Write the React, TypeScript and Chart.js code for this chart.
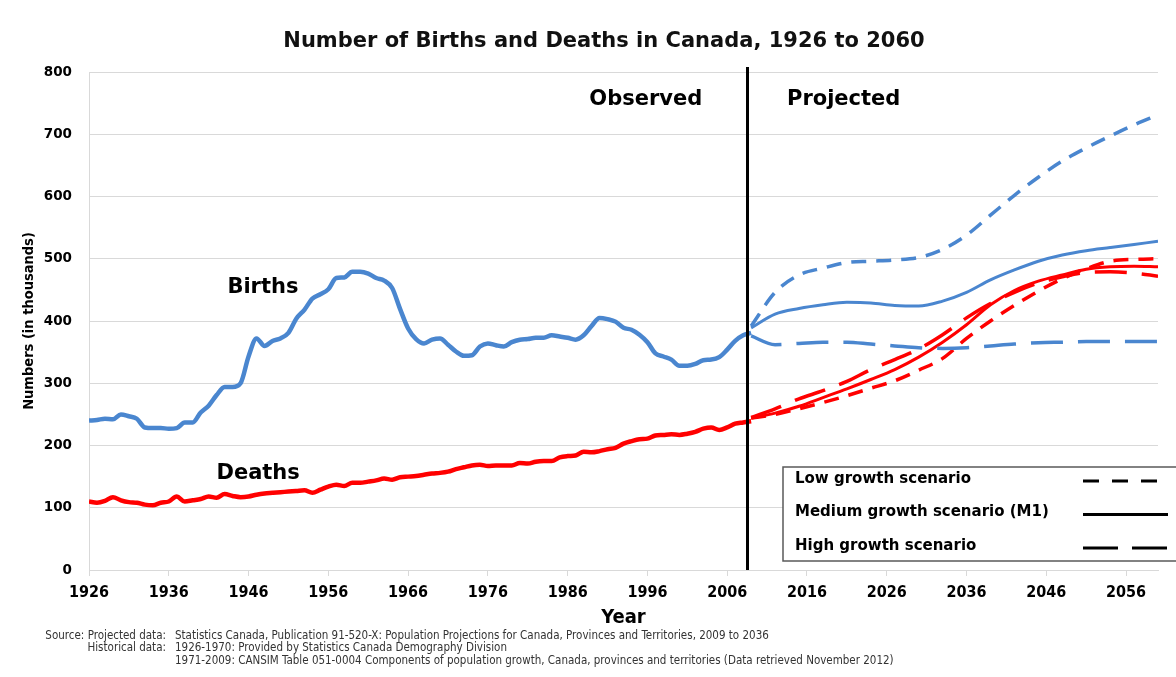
import React, { useEffect, useRef } from "react";
import { Chart, registerables } from "chart.js";

Chart.register(...registerables);

// ---------- data ----------
const observedStartYear = 1926;
const birthsObserved = [
  240, 241, 243, 242, 250, 247, 243, 229, 228, 228,
  227, 228, 237, 237, 253, 264, 281, 294, 294, 300,
  343, 372, 360, 368, 372, 381, 404, 418, 436, 443,
  451, 469, 470, 479, 479, 476, 469, 465, 453, 419,
  388, 371, 364, 370, 372, 362, 351, 344, 345, 359,
  364, 361, 359, 366, 370, 371, 373, 373, 377, 375,
  373, 370, 377, 392, 405, 403, 399, 389, 386, 378,
  366, 348, 343, 338, 328, 328, 331, 337, 338, 342,
  354, 368, 377, 381,
];
const deathsObserved = [
  110, 108, 111, 117, 112, 109, 108, 105, 104, 108,
  110, 118, 110, 112, 114, 118, 116, 122, 119, 117,
  118, 121, 123, 124, 125, 126, 127, 128, 124, 129,
  134, 137, 135, 140, 140, 142, 144, 147, 145, 149,
  150, 151, 153, 155, 156, 158, 162, 165, 168, 169,
  167, 168, 168, 168, 172, 171, 174, 175, 175, 181,
  183, 184, 190, 189, 191, 194, 196, 203, 207, 210,
  211, 216, 217, 218, 217, 219, 222, 227, 229, 225,
  229, 235, 237, 239,
];

const projectionYears = [2009, 2012, 2015, 2018, 2021, 2024, 2027, 2030, 2033, 2036, 2039, 2042, 2045, 2048, 2051, 2054, 2057, 2060];
const birthsHigh = [392, 446, 474, 485, 494, 496, 498, 502, 515, 538, 570, 602, 631, 657, 678, 697, 715, 731];
const birthsMedium = [389, 411, 420, 426, 430, 429, 425, 424, 432, 446, 466, 482, 496, 506, 513, 518, 523, 528];
const birthsLow = [376, 362, 364, 366, 366, 363, 360, 357, 356, 357, 360, 363, 365, 366, 367, 367, 367, 367];
const deathsMedium = [244, 252, 263, 277, 291, 306, 322, 342, 366, 394, 426, 449, 464, 474, 483, 487, 488, 487];
const deathsLow = [245, 259, 275, 288, 303, 322, 338, 355, 378, 405, 428, 446, 461, 471, 478, 479, 477, 472];
const deathsHigh = [244, 250, 259, 269, 280, 292, 304, 321, 340, 372, 400, 425, 448, 468, 484, 496, 499, 500];

const xTickYears = [1926, 1936, 1946, 1956, 1966, 1976, 1986, 1996, 2006, 2016, 2026, 2036, 2046, 2056];
const yTickValues = [0, 100, 200, 300, 400, 500, 600, 700, 800];
const dividerYear = 2008.5;

const TITLE = "Number of Births and Deaths in Canada, 1926 to 2060";
const legendItems = ["Low growth scenario", "Medium growth scenario (M1)", "High growth scenario"];
const sourceLabels = ["Source: Projected data:", "Historical data:", ""];
const sourceTexts = [
  "Statistics Canada, Publication 91-520-X: Population Projections for Canada, Provinces and Territories, 2009 to 2036",
  "1926-1970: Provided by Statistics Canada Demography Division",
  "1971-2009: CANSIM Table 051-0004 Components of population growth, Canada, provinces and territories (Data retrieved November 2012)",
];

// ---------- styles ----------
const BLUE = "#4a86cf";
const RED = "#ff0000";
const SHORT_DASH = [15, 10];
const LONG_DASH = [32, 15];
const NARROW = "'DejaVu Sans Condensed', 'Liberation Sans Narrow', sans-serif";
const WIDE = "'DejaVu Sans', Verdana, sans-serif";

const toPoints = (years: number[], vals: number[]) => vals.map((v, i) => ({ x: years[i], y: v }));
const observedYears = birthsObserved.map((_, i) => observedStartYear + i);

const annotations = {
  id: "annotations",
  afterDatasetsDraw(chart: any) {
    const { ctx, chartArea, scales } = chart;
    const x = scales.x;
    const y = scales.y;
    ctx.save();
    // divider
    const dx = Math.round(x.getPixelForValue(dividerYear)) + 0.5;
    ctx.strokeStyle = "#000";
    ctx.lineWidth = 3;
    ctx.beginPath();
    ctx.moveTo(dx, chartArea.top - 5);
    ctx.lineTo(dx, chartArea.bottom);
    ctx.stroke();

    ctx.fillStyle = "#000";
    ctx.textBaseline = "middle";
    ctx.textAlign = "center";
    ctx.font = `bold 21px ${WIDE}`;
    ctx.fillText("Observed", x.getPixelForValue(1995.8), y.getPixelForValue(756));
    ctx.fillText("Projected", x.getPixelForValue(2020.6), y.getPixelForValue(756));
    ctx.fillText("Births", x.getPixelForValue(1947.8), y.getPixelForValue(453));
    ctx.fillText("Deaths", x.getPixelForValue(1947.2), y.getPixelForValue(155));

    // legend box
    const bx = 783, by = 467, bh = 94;
    ctx.fillStyle = "#fff";
    ctx.fillRect(bx, by, 420, bh);
    ctx.strokeStyle = "#595959";
    ctx.lineWidth = 1.5;
    ctx.strokeRect(bx, by, 420, bh);
    ctx.fillStyle = "#000";
    ctx.textAlign = "left";
    ctx.font = `bold 15px ${WIDE}`;
    const dashes = [[16, 13], [], [35, 14]];
    legendItems.forEach((t, i) => {
      const ly = 479 + i * 33.5;
      ctx.fillText(t, 795, ly);
      ctx.setLineDash(dashes[i]);
      ctx.strokeStyle = "#000";
      ctx.lineWidth = 3;
      ctx.beginPath();
      ctx.moveTo(1083, ly + 2);
      ctx.lineTo(1168, ly + 2);
      ctx.stroke();
    });
    ctx.setLineDash([]);
    ctx.restore();
  },
  afterDraw(chart: any) {
    const { ctx } = chart;
    ctx.save();
    ctx.fillStyle = "#111";
    ctx.textBaseline = "middle";
    ctx.textAlign = "center";
    ctx.font = `bold 21px ${WIDE}`;
    ctx.fillText(TITLE, 604, 42);
    ctx.fillStyle = "#333";
    ctx.font = `11.5px ${NARROW}`;
    sourceLabels.forEach((t, i) => {
      const ly = 636 + i * 12.5;
      ctx.textAlign = "right";
      ctx.fillText(t, 166, ly);
      ctx.textAlign = "left";
      ctx.fillText(sourceTexts[i], 175, ly);
    });
    ctx.restore();
  },
};

export default function App() {
  const ref = useRef<HTMLCanvasElement | null>(null);
  useEffect(() => {
    document.body.style.margin = "0";
    if (!ref.current) return;
    const lineDs = (label: string, data: any[], color: string, width: number, dash: number[]) => ({
      label,
      data,
      borderColor: color,
      backgroundColor: color,
      borderWidth: width,
      borderDash: dash,
      pointRadius: 0,
      fill: false,
      cubicInterpolationMode: "monotone" as const,
    });
    const chart = new Chart(ref.current, {
      type: "line",
      data: {
        datasets: [
          lineDs("Births (observed)", toPoints(observedYears, birthsObserved), BLUE, 4.5, []),
          lineDs("Births high", toPoints(projectionYears, birthsHigh), BLUE, 3.5, SHORT_DASH),
          lineDs("Births medium", toPoints(projectionYears, birthsMedium), BLUE, 3, []),
          lineDs("Births low", toPoints(projectionYears, birthsLow), BLUE, 3.5, LONG_DASH),
          lineDs("Deaths (observed)", toPoints(observedYears, deathsObserved), RED, 4.5, []),
          lineDs("Deaths high", toPoints(projectionYears, deathsHigh), RED, 3.5, SHORT_DASH),
          lineDs("Deaths medium", toPoints(projectionYears, deathsMedium), RED, 3, []),
          lineDs("Deaths low", toPoints(projectionYears, deathsLow), RED, 3.5, LONG_DASH),
        ],
      },
      options: {
        responsive: false,
        animation: false,
        devicePixelRatio: 1,
        parsing: false as any,
        layout: { padding: { top: 72, right: 18, bottom: 47, left: 0 } },
        plugins: {
          legend: { display: false },
          tooltip: { enabled: false },
          title: { display: false },
        },
        scales: {
          x: {
            type: "linear",
            min: 1926,
            max: 2060,
            afterBuildTicks: (s: any) => {
              s.ticks = xTickYears.map((v) => ({ value: v }));
            },
            afterFit: (s: any) => {
              s.height = 60;
            },
            grid: { drawOnChartArea: false, drawTicks: true, tickLength: 6, color: "#d9d9d9" },
            border: { color: "#d9d9d9" },
            ticks: {
              color: "#000",
              font: { family: NARROW, size: 16, weight: "bold" },
              padding: 7,
              maxRotation: 0,
              autoSkip: false,
              callback: (v: any) => String(v),
            },
            title: {
              display: true,
              text: "Year",
              color: "#000",
              font: { family: NARROW, size: 20, weight: "bold" },
              padding: { top: 0, bottom: 0 },
            },
          },
          y: {
            min: 0,
            max: 800,
            afterBuildTicks: (s: any) => {
              s.ticks = yTickValues.map((v) => ({ value: v }));
            },
            afterFit: (s: any) => {
              s.width = 89;
            },
            grid: { color: "#d9d9d9", drawTicks: false },
            border: { color: "#d9d9d9" },
            ticks: {
              color: "#000",
              font: { family: WIDE, size: 13.5, weight: "bold" },
              padding: 17,
              callback: (v: any) => String(v),
            },
            title: {
              display: true,
              text: "Numbers (in thousands)",
              color: "#000",
              font: { family: NARROW, size: 14.5, weight: "bold" },
              padding: { top: 21, bottom: 0 },
            },
          },
        },
      },
      plugins: [annotations],
    });
    return () => chart.destroy();
  }, []);
  return (
    <div style={{ position: "fixed", left: 0, top: 0, width: 1176, height: 677, background: "#fff" }}>
      <canvas ref={ref} width={1176} height={677} style={{ display: "block" }} />
    </div>
  );
}
